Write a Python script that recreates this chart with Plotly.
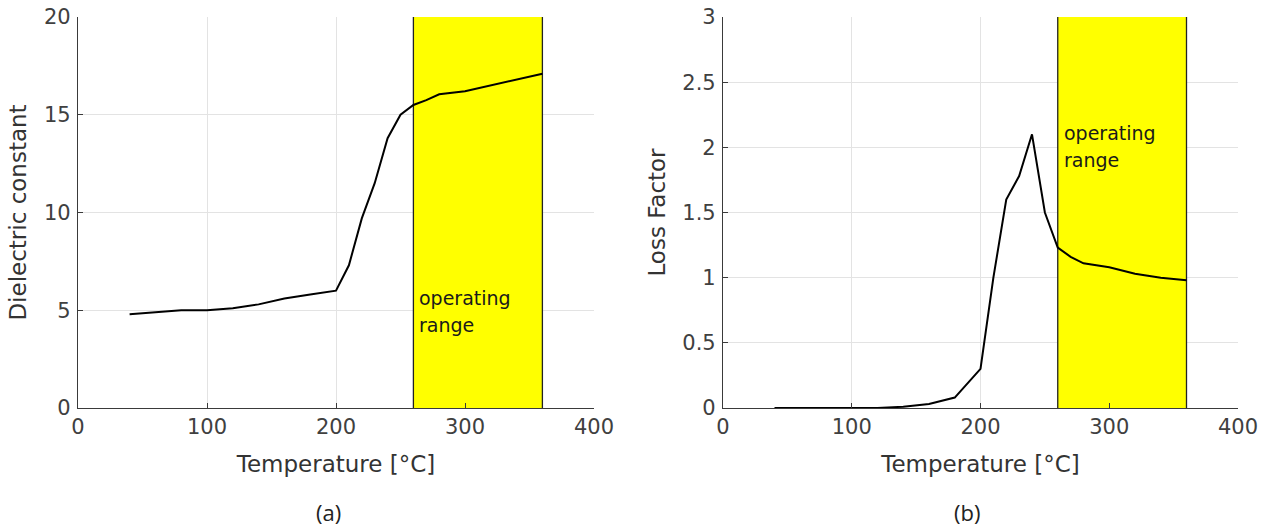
import plotly.graph_objects as go

# Data
temp_a = [40, 60, 80, 100, 120, 140, 160, 180, 200, 210, 220, 230, 240, 250, 260, 270, 280, 300, 320, 340, 360]
dielectric = [4.8, 4.9, 5.0, 5.0, 5.1, 5.3, 5.6, 5.8, 6.0, 7.3, 9.7, 11.5, 13.8, 15.0, 15.5, 15.75, 16.05, 16.2, 16.5, 16.8, 17.1]

temp_b = [40, 60, 80, 100, 120, 140, 160, 180, 200, 210, 220, 230, 240, 250, 260, 270, 280, 300, 320, 340, 360]
loss = [0.0, 0.0, 0.0, 0.0, 0.0, 0.01, 0.03, 0.08, 0.3, 1.0, 1.6, 1.78, 2.1, 1.5, 1.23, 1.16, 1.11, 1.08, 1.03, 1.0, 0.98]

op_range = [260, 360]
x_ticks = [0, 100, 200, 300, 400]
ya_ticks = [0, 5, 10, 15, 20]
yb_ticks = [0, 0.5, 1, 1.5, 2, 2.5, 3]
yb_labels = ["0", "0.5", "1", "1.5", "2", "2.5", "3"]

W, H = 1271, 530
dom_xa = [78 / W, 594 / W]
dom_xb = [723 / W, 1238 / W]
dom_y = [1 - 408 / H, 1 - 17 / H]

fig = go.Figure()

FONT = "DejaVu Sans, Liberation Sans, Arial, sans-serif"
tick_font = dict(family=FONT, size=21, color="#404040")
title_font = dict(family=FONT, size=23, color="#333333")

fig.add_trace(go.Scatter(x=temp_a, y=dielectric, mode="lines",
                         line=dict(color="black", width=2), xaxis="x", yaxis="y",
                         showlegend=False))
fig.add_trace(go.Scatter(x=temp_b, y=loss, mode="lines",
                         line=dict(color="black", width=2), xaxis="x2", yaxis="y2",
                         showlegend=False))

common_ax = dict(showgrid=True, gridcolor="#e3e3e3", gridwidth=1, zeroline=False,
                 showline=True, linecolor="#3a3a3a", linewidth=1.2,
                 ticks="inside", ticklen=5, tickcolor="#3a3a3a", tickfont=tick_font,
                 fixedrange=True, automargin=False)

fig.update_layout(
    width=W, height=H,
    margin=dict(l=0, r=0, t=0, b=0, pad=0),
    paper_bgcolor="white", plot_bgcolor="white",
    xaxis=dict(domain=dom_xa, range=[0, 400], tickvals=x_ticks, anchor="y",
               title=dict(text="Temperature [°C]", font=title_font, standoff=17), **common_ax),
    yaxis=dict(domain=dom_y, range=[0, 20], tickvals=ya_ticks, anchor="x",
               title=dict(text="Dielectric constant", font=title_font, standoff=10),
               ticklabelstandoff=2, **common_ax),
    xaxis2=dict(domain=dom_xb, range=[0, 400], tickvals=x_ticks, anchor="y2",
                title=dict(text="Temperature [°C]", font=title_font, standoff=17), **common_ax),
    yaxis2=dict(domain=dom_y, range=[0, 3], tickvals=yb_ticks, ticktext=yb_labels, anchor="x2",
                title=dict(text="Loss Factor", font=title_font, standoff=10),
                ticklabelstandoff=2, **common_ax),
)

shapes = []
for xr, yr, ytop in [("x", "y", 20), ("x2", "y2", 3)]:
    shapes.append(dict(type="rect", xref=xr, yref=yr, x0=op_range[0], x1=op_range[1],
                       y0=0, y1=ytop, fillcolor="#ffff00", line=dict(width=0), layer="between"))
    for xv in op_range:
        shapes.append(dict(type="line", xref=xr, yref=yr, x0=xv, x1=xv, y0=0, y1=ytop,
                           line=dict(color="#222222", width=1.3), layer="between"))
fig.update_layout(shapes=shapes)

ann_font = dict(family=FONT, size=19, color="#1a1a1a")
label_font = dict(family="Open Sans, Noto Sans, sans-serif", size=22, color="#222222")
annotations = [
    dict(x=263, y=5.63, xref="x", yref="y", text="operating", showarrow=False,
         xanchor="left", yanchor="middle", font=ann_font),
    dict(x=263, y=4.25, xref="x", yref="y", text="range", showarrow=False,
         xanchor="left", yanchor="middle", font=ann_font),
    dict(x=263, y=2.11, xref="x2", yref="y2", text="operating", showarrow=False,
         xanchor="left", yanchor="middle", font=ann_font),
    dict(x=263, y=1.90, xref="x2", yref="y2", text="range", showarrow=False,
         xanchor="left", yanchor="middle", font=ann_font),
    dict(x=328 / W, y=1 - 512 / H, xref="paper", yref="paper", text="(a)", showarrow=False,
         xanchor="center", yanchor="middle", font=label_font),
    dict(x=967 / W, y=1 - 512 / H, xref="paper", yref="paper", text="(b)", showarrow=False,
         xanchor="center", yanchor="middle", font=label_font),
]
fig.update_layout(annotations=annotations)

fig.write_html("out.html", config={"displayModeBar": False},
               post_script="document.body.style.margin='0';document.body.style.overflow='hidden';")
